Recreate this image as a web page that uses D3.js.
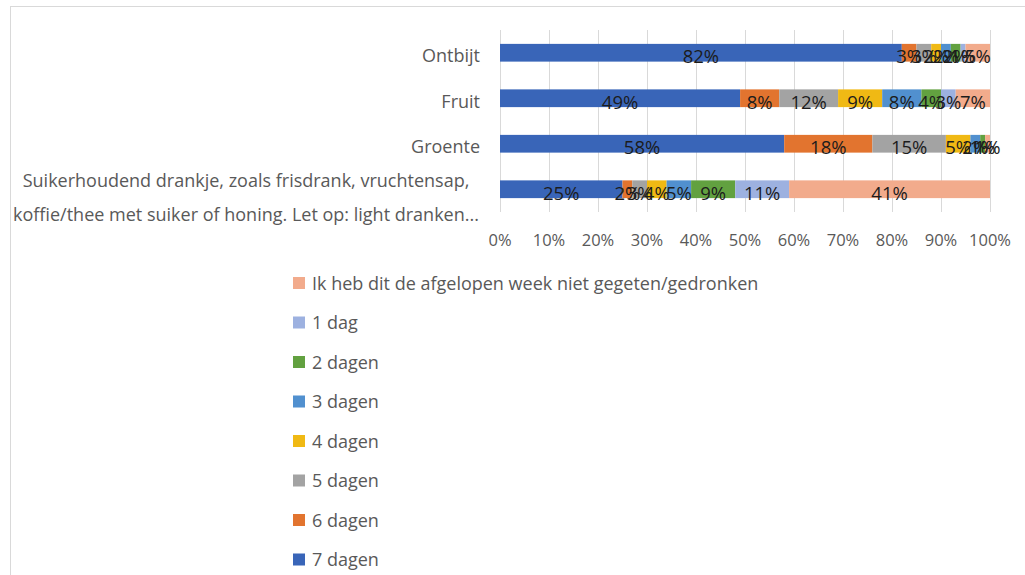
<!DOCTYPE html>
<html>
<head>
<meta charset="utf-8">
<script src="https://cdnjs.cloudflare.com/ajax/libs/d3/7.8.5/d3.min.js"></script>
<style>
  html, body { margin: 0; padding: 0; background: #fff; }
  svg { display: block; font-family: "Open Sans", "Noto Sans", sans-serif; }
</style>
</head>
<body>
<svg id="chart" width="1025" height="575"></svg>
<script>
// Categories (bottom label wraps over two lines)
const categories = ["Ontbijt", "Fruit", "Groente", "Suikerhoudend"];
const categoryLines = [
  ["Ontbijt"],
  ["Fruit"],
  ["Groente"],
  ["Suikerhoudend drankje, zoals frisdrank, vruchtensap,",
   "koffie/thee met suiker of honing. Let op: light dranken..."]
];

// Series, in stacking order from left to right
const seriesNames = ["7 dagen", "6 dagen", "5 dagen", "4 dagen", "3 dagen", "2 dagen", "1 dag",
  "Ik heb dit de afgelopen week niet gegeten/gedronken"];
const dagen7 = [82, 49, 58, 25];
const dagen6 = [3, 8, 18, 2];
const dagen5 = [3, 12, 15, 3];
const dagen4 = [2, 9, 5, 4];
const dagen3 = [2, 8, 2, 5];
const dagen2 = [2, 4, 1, 9];
const dag1   = [1, 3, 0, 11];
const niet   = [5, 7, 1, 41];
const seriesValues = [dagen7, dagen6, dagen5, dagen4, dagen3, dagen2, dag1, niet];
const seriesColors = ["#3965b8", "#e2742f", "#a3a3a3", "#f0b914", "#5190cf", "#62a140", "#9db1e0", "#f2ab8c"];

// Axis ticks
const tickValues = [0, 10, 20, 30, 40, 50, 60, 70, 80, 90, 100];

const svg = d3.select("#chart");

// Outer chart frame
svg.append("rect")
  .attr("x", 10.5).attr("y", 6.5)
  .attr("width", 1030).attr("height", 600)
  .attr("fill", "none").attr("stroke", "#d9d9d9");

const x = d3.scaleLinear().domain([0, 100]).range([500, 990]);
const y = d3.scaleBand().domain(categories).range([30, 212])
  .paddingInner(0.61).paddingOuter(0.305);

// Vertical gridlines
svg.append("g").selectAll("line").data(tickValues).join("line")
  .attr("x1", d => Math.round(x(d)) + 0.5).attr("x2", d => Math.round(x(d)) + 0.5)
  .attr("y1", 30).attr("y2", 212)
  .attr("stroke", "#d9d9d9").attr("stroke-width", 1);

// Stack the series
const rows = categories.map((c, i) => {
  const r = { cat: c };
  seriesNames.forEach((s, j) => { r[s] = seriesValues[j][i]; });
  return r;
});
const stacked = d3.stack().keys(seriesNames)(rows);

const layers = svg.append("g").selectAll("g").data(stacked).join("g")
  .attr("fill", (d, i) => seriesColors[i]);

layers.selectAll("rect").data(d => d).join("rect")
  .attr("x", d => x(d[0]))
  .attr("y", d => y(d.data.cat))
  .attr("width", d => x(d[1]) - x(d[0]))
  .attr("height", y.bandwidth());

// Value labels centred in each segment
const labelG = svg.append("g");
stacked.forEach(layer => {
  layer.forEach(d => {
    const v = d[1] - d[0];
    if (v <= 0) return;
    labelG.append("text")
      .attr("x", x((d[0] + d[1]) / 2))
      .attr("y", y(d.data.cat) + y.bandwidth() / 2 + 10.5)
      .attr("text-anchor", "middle")
      .attr("font-size", 18.5)
      .attr("fill", "#1c1c1c")
      .text(v + "%");
  });
});

// Category labels
const catG = svg.append("g");
categories.forEach((c, i) => {
  const lines = categoryLines[i];
  const cy = y(c) + y.bandwidth() / 2;
  if (lines.length === 1) {
    catG.append("text")
      .attr("x", 480).attr("y", cy + 9.5)
      .attr("text-anchor", "end")
      .attr("font-size", 18).attr("fill", "#595959")
      .text(lines[0]);
  } else {
    const t = catG.append("text")
      .attr("text-anchor", "middle")
      .attr("font-size", 18).attr("fill", "#595959");
    lines.forEach((ln, k) => {
      t.append("tspan").attr("x", 246).attr("y", cy - 2 + k * 34).text(ln);
    });
  }
});

// X axis tick labels
svg.append("g").selectAll("text").data(tickValues).join("text")
  .attr("x", d => x(d))
  .attr("y", 245.5)
  .attr("text-anchor", "middle")
  .attr("font-size", 16.5).attr("fill", "#595959")
  .text(d => d + "%");

// Legend, listed in reverse stacking order
const legendOrder = seriesNames.map((s, i) => i).reverse();
const legend = svg.append("g").selectAll("g").data(legendOrder).join("g")
  .attr("transform", (d, k) => `translate(293, ${283 + k * 39.5})`);
legend.append("rect")
  .attr("x", 0).attr("y", -6).attr("width", 12).attr("height", 12)
  .attr("fill", d => seriesColors[d]);
legend.append("text")
  .attr("x", 19).attr("y", 6.5)
  .attr("font-size", 18).attr("fill", "#595959")
  .text(d => seriesNames[d]);
</script>
</body>
</html>
